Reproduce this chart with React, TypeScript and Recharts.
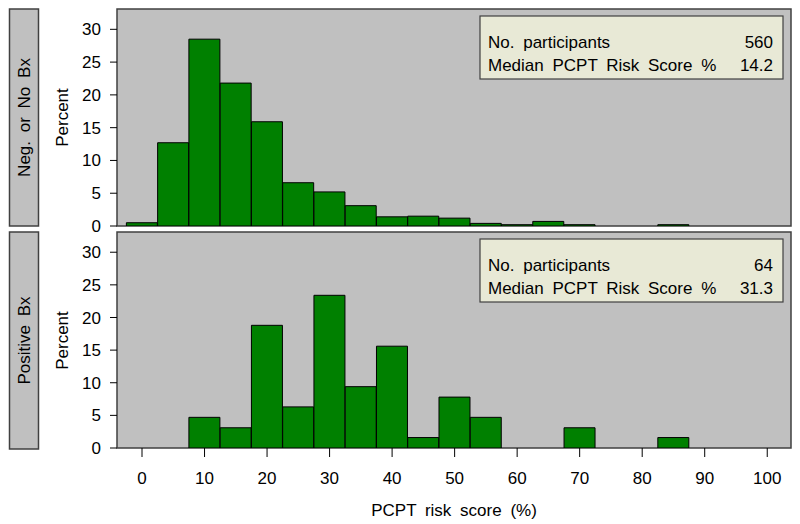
import React from 'react';
import { BarChart, Bar, XAxis, YAxis, CartesianGrid, ReferenceArea } from 'recharts';

// histogram bins (midpoints, %), width 5
const binMids = [0, 5, 10, 15, 20, 25, 30, 35, 40, 45, 50, 55, 60, 65, 70, 75, 80, 85, 90, 95, 100];
const negPct = [0.5, 12.7, 28.5, 21.8, 15.9, 6.6, 5.2, 3.1, 1.4, 1.5, 1.2, 0.4, 0.2, 0.7, 0.2, 0, 0, 0.2, 0, 0, 0];
const posPct = [0, 0, 4.7, 3.1, 18.8, 6.3, 23.4, 9.4, 15.6, 1.6, 7.8, 4.7, 0, 0, 3.1, 0, 0, 1.6, 0, 0, 0];

const yTicks = [0, 5, 10, 15, 20, 25, 30];
const xTicks = [0, 10, 20, 30, 40, 50, 60, 70, 80, 90, 100];

const panels = [
  { strip: 'Neg. or No Bx', n: '560', median: '14.2', values: negPct },
  { strip: 'Positive Bx', n: '64', median: '31.3', values: posPct },
];

const FONT = '"Liberation Sans", Arial, Helvetica, sans-serif';
const X_DOMAIN: [number, number] = [-4, 103.8];
const Y_DOMAIN: [number, number] = [0, 33.1];
const PLOT_LEFT = 117;
const PLOT_RIGHT = 791;

const tickStyle = { fontSize: 17, fill: '#000', fontFamily: FONT };

const makeRows = (values: number[]) => binMids.map((mid, i) => ({ mid, pct: values[i] }));

const Panel = ({ values, bottom }: { values: number[]; bottom: boolean }) => (
  <BarChart
    width={800}
    height={bottom ? 298 : 240}
    data={makeRows(values)}
    barCategoryGap={0}
    barGap={0}
    style={{ overflow: 'visible' }}
    margin={{ top: bottom ? 6 : 9, right: 800 - PLOT_RIGHT, bottom: bottom ? 0 : 14, left: 0 }}
  >
    <CartesianGrid fill="#c0c0c0" horizontal={false} vertical={false} />
    <XAxis
      type="number"
      dataKey="mid"
      domain={X_DOMAIN}
      ticks={xTicks}
      interval={0}
      hide={!bottom}
      height={76}
      axisLine={false}
      tickSize={9}
      tickMargin={15}
      tickLine={{ stroke: '#000' }}
      tick={tickStyle}
      allowDataOverflow
      label={{ value: 'PCPT risk score (%)', position: 'insideBottom', offset: 8, fontSize: 17, fill: '#000', fontFamily: FONT, wordSpacing: 4 }}
    />
    <YAxis
      type="number"
      domain={Y_DOMAIN}
      ticks={yTicks}
      interval={0}
      width={PLOT_LEFT}
      axisLine={false}
      tickSize={7}
      tickMargin={9}
      tickLine={{ stroke: '#000' }}
      tick={tickStyle}
      allowDataOverflow
    />
    <Bar dataKey="pct" fill="#008000" stroke="#000" strokeWidth={1} isAnimationActive={false} />
    <ReferenceArea x1={X_DOMAIN[0]} x2={X_DOMAIN[1]} y1={0} y2={Y_DOMAIN[1]} fill="none" stroke="#404040" strokeWidth={1.5} />
  </BarChart>
);

export default function App() {
  const tops = [9, 232];
  return (
    <div style={{ position: 'absolute', left: 0, top: 0, width: 800, height: 524, background: '#fff', fontFamily: FONT }}>
      <div style={{ position: 'absolute', left: 0, top: 226 }}>
        <Panel values={posPct} bottom />
      </div>
      <div style={{ position: 'absolute', left: 0, top: 0 }}>
        <Panel values={negPct} bottom={false} />
      </div>
      <svg width={800} height={524} style={{ position: 'absolute', left: 0, top: 0, pointerEvents: 'none' }}>
        {panels.map((p, i) => {
          const t = tops[i];
          const mid = t + 108.5;
          return (
            <g key={p.strip} fontFamily={FONT} fontSize={17} fill="#000" style={{ wordSpacing: 4 }}>
              <rect x={9.5} y={t} width={29} height={217} fill="#c0c0c0" stroke="#404040" strokeWidth={1.5} />
              <text x={24} y={mid} transform={`rotate(-90 24 ${mid})`} textAnchor="middle" dominantBaseline="central">
                {p.strip}
              </text>
              <text x={62} y={mid} transform={`rotate(-90 62 ${mid})`} textAnchor="middle" dominantBaseline="central">
                Percent
              </text>
              <rect x={480} y={t + 7} width={303} height={63} fill="#e8e9d6" stroke="#404040" strokeWidth={1.2} />
              <text x={488} y={t + 39}>No. participants</text>
              <text x={773} y={t + 39} textAnchor="end">{p.n}</text>
              <text x={488} y={t + 62}>Median PCPT Risk Score %</text>
              <text x={773} y={t + 62} textAnchor="end">{p.median}</text>
            </g>
          );
        })}
      </svg>
    </div>
  );
}
